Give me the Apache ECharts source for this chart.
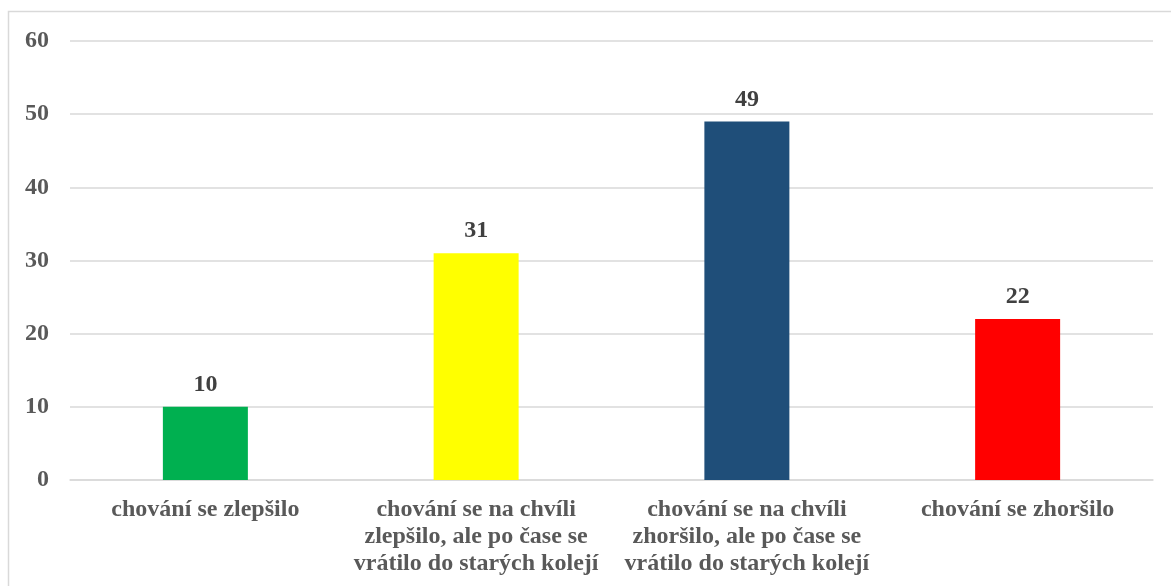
<!DOCTYPE html>
<html><head><meta charset="utf-8">
<script src="https://cdn.jsdelivr.net/npm/echarts@6/dist/echarts.min.js"></script>
<style>html,body{margin:0;padding:0;background:#fff}#c{width:1171px;height:586px}</style>
</head><body><div id="c"></div>
<script>
const categories = [
  'chování se zlepšilo',
  'chování se na chvíli\nzlepšilo, ale po čase se\nvrátilo do starých kolejí',
  'chování se na chvíli\nzhoršilo, ale po čase se\nvrátilo do starých kolejí',
  'chování se zhoršilo'
];
const values = [10, 31, 49, 22];
const colors = ['#00B050', '#FFFF00', '#1F4E79', '#FF0000'];
const yTicks = {min: 0, max: 60, interval: 10};

const font = '"Liberation Serif", "Times New Roman", serif';
const chart = echarts.init(document.getElementById('c'), null, {renderer: 'canvas'});
chart.setOption({
  animation: false,
  backgroundColor: '#fff',
  graphic: [{
    type: 'rect', silent: true,
    shape: {x: 8.5, y: 11.5, width: 1300, height: 700},
    style: {fill: 'none', stroke: '#d9d9d9', lineWidth: 1.5}
  }],
  grid: {left: 70, right: 18, top: 41, bottom: 106, containLabel: false},
  xAxis: {
    type: 'category',
    data: categories,
    axisLine: {show: true, lineStyle: {color: '#d9d9d9', width: 1.5}},
    axisTick: {show: false},
    axisLabel: {
      interval: 0, margin: 16, color: '#595959',
      fontFamily: font, fontWeight: 'bold', fontSize: 24, lineHeight: 27, align: 'center'
    }
  },
  yAxis: {
    type: 'value', min: yTicks.min, max: yTicks.max, interval: yTicks.interval,
    axisLine: {show: false}, axisTick: {show: false},
    splitLine: {lineStyle: {color: '#d9d9d9', width: 1.5}},
    axisLabel: {margin: 21, color: '#595959', fontFamily: font, fontWeight: 'bold', fontSize: 24}
  },
  series: [{
    type: 'bar',
    barWidth: 85,
    data: values.map((v, i) => ({value: v, itemStyle: {color: colors[i]}})),
    label: {
      show: true, position: 'top', distance: 10,
      color: '#404040', fontFamily: font, fontWeight: 'bold', fontSize: 24
    }
  }]
});
</script></body></html>
